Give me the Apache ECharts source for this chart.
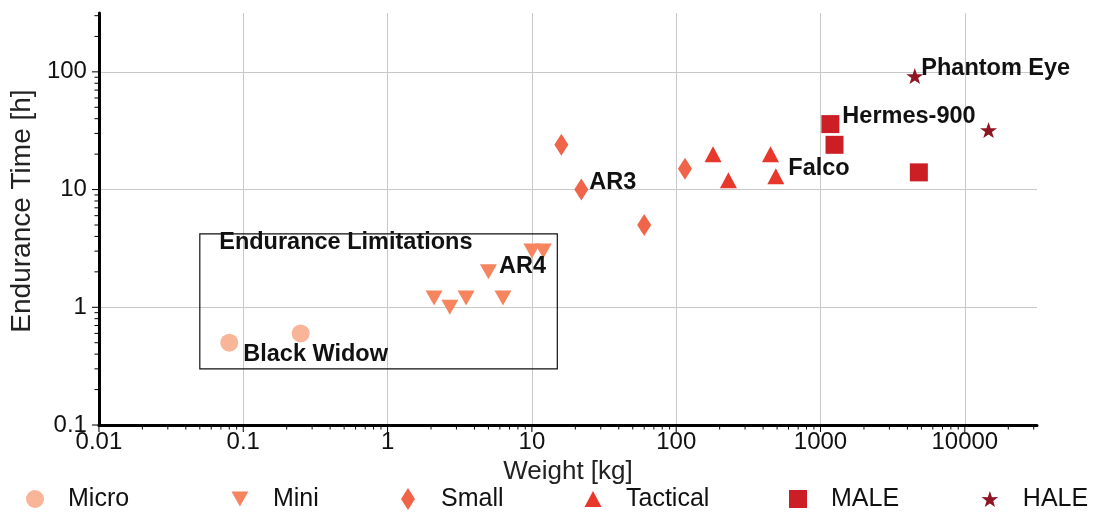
<!DOCTYPE html>
<html>
<head>
<meta charset="utf-8">
<script src="https://cdn.jsdelivr.net/npm/echarts@6/dist/echarts.min.js"></script>
<style>
  html, body { margin: 0; padding: 0; background: #ffffff; }
  #chart { width: 1106px; height: 514px; }
</style>
</head>
<body>
<div id="chart"></div>
<script>
// UAV classes: [weight kg, endurance h, callout name]
const micro    = [[0.08, 0.5, 'Black Widow'], [0.25, 0.6, '']];
const mini     = [[2.1, 1.2, ''], [2.7, 1.0, ''], [3.5, 1.2, ''], [5.0, 2.0, 'AR4'], [6.3, 1.2, ''], [10, 3, ''], [12, 3, '']];
const small    = [[16, 24, ''], [22, 10, 'AR3'], [60, 5, ''], [115, 15, '']];
const tactical = [[180, 20, ''], [230, 12, ''], [450, 20, ''], [490, 13, 'Falco']];
const male     = [[1170, 36, 'Hermes-900'], [1250, 24, ''], [4800, 14, '']];
const hale     = [[4500, 92, 'Phantom Eye'], [14600, 32, '']];

const classNames = ['Micro', 'Mini', 'Small', 'Tactical', 'MALE', 'HALE'];

// Boxed region of small, short-endurance vehicles
const limitRegionX = [0.05, 15];
const limitRegionY = [0.3, 4.2];
const limitRegionTitle = 'Endurance Limitations';

// Axis ranges and tick labels
const xRange = [0.01, 31623];
const yRange = [0.1, 316.23];
const xTickLabels = ['0.01', '0.1', '1', '10', '100', '1000', '10000'];
const yTickLabels = ['0.1', '1', '10', '100'];

const FONT = "'Liberation Sans', Arial, Helvetica, sans-serif";

const palette = {
  Micro: '#F9B597', Mini: '#F6845F', Small: '#F0654A',
  Tactical: '#E8382B', MALE: '#CC1E25', HALE: '#8E1521'
};

const STAR = 'path://M50,0 L61.8,35.1 L97.6,34.5 L69,56.7 L79.4,91 L50,70.5 L20.6,91 L31,56.7 L2.4,34.5 L38.2,35.1 Z';
const TRI_DOWN = 'path://M0,0 L18,0 L9,16 Z';
const DIAMOND = 'path://M7,0 L14,11 L7,22 L0,11 Z';

const markerStyle = {
  Micro:    { symbol: 'circle',   size: [18, 18] },
  Mini:     { symbol: TRI_DOWN,   size: [17, 15] },
  Small:    { symbol: DIAMOND,    size: [14, 22] },
  Tactical: { symbol: 'triangle', size: [17, 16] },
  MALE:     { symbol: 'rect',     size: [18, 18] },
  HALE:     { symbol: STAR,       size: [17, 16] }
};

// where each callout sits next to its marker
const calloutPlacement = {
  'Black Widow': { distance: 5, offset: [0, 12] },
  'AR4':         { distance: 2, offset: [0, -5] },
  'AR3':         { distance: 1, offset: [0, -7] },
  'Falco':       { distance: 4, offset: [0, -8] },
  'Hermes-900':  { distance: 3, offset: [0, -8] },
  'Phantom Eye': { distance: -2, offset: [0, -8] }
};

// legend icon centres along the bottom row
const legendCentres = [35, 240, 408, 593, 798, 990];
const legendRowY = 499;

const calloutText = {
  show: true, position: 'right', color: '#111',
  fontFamily: FONT, fontWeight: 'bold', fontSize: 23.5
};

function toItems(rows) {
  return rows.map(r => {
    const item = { value: [r[0], r[1]] };
    if (r[2]) {
      const p = calloutPlacement[r[2]] || {};
      item.name = r[2];
      item.label = Object.assign({}, calloutText, {
        formatter: r[2], distance: p.distance, offset: p.offset
      });
    }
    return item;
  });
}

const classData = { Micro: micro, Mini: mini, Small: small, Tactical: tactical, MALE: male, HALE: hale };

const scatterSeries = classNames.map(name => {
  const s = {
    name: name,
    type: 'scatter',
    symbol: markerStyle[name].symbol,
    symbolSize: markerStyle[name].size,
    itemStyle: { color: palette[name], opacity: 1 },
    label: { show: false },
    emphasis: { disabled: true },
    z: 5,
    data: toItems(classData[name])
  };
  if (name === 'Micro') {
    s.markArea = {
      silent: true,
      itemStyle: { color: 'rgba(0,0,0,0)', borderColor: '#111', borderWidth: 1.2 },
      label: {
        show: true, position: 'insideTopLeft', distance: 0, offset: [20, -3],
        color: '#111', fontFamily: FONT, fontWeight: 'bold', fontSize: 23.5
      },
      data: [[
        { name: limitRegionTitle, coord: [limitRegionX[0], limitRegionY[1]] },
        { coord: [limitRegionX[1], limitRegionY[0]] }
      ]]
    };
  }
  return s;
});

// Log-style tick marks (majors at decades, minors at 2..9 of each decade)
function decadeTicks(labels, maxVal) {
  const out = [];
  labels.forEach(l => {
    const base = Number(l);
    out.push([base, 7]);
    for (let k = 2; k <= 9; k++) {
      const v = base * k;
      if (v <= maxVal * 1.0001) out.push([v, 4.5]);
    }
  });
  return out;
}
const xTicks = decadeTicks(xTickLabels, xRange[1]);
const yTicks = decadeTicks(yTickLabels, yRange[1]);

const tickSeries = [
  {
    type: 'custom', silent: true, z: 3, clip: false,
    renderItem: (params, api) => {
      const p = api.coord([api.value(0), yRange[0]]);
      const len = api.value(1);
      return { type: 'line', shape: { x1: p[0], y1: p[1], x2: p[0], y2: p[1] + len },
               style: { stroke: '#000', lineWidth: 1 } };
    },
    encode: { x: 0 },
    data: xTicks.map(t => [t[0], t[1]])
  },
  {
    type: 'custom', silent: true, z: 3, clip: false,
    renderItem: (params, api) => {
      const p = api.coord([xRange[0], api.value(0)]);
      const len = api.value(1);
      return { type: 'line', shape: { x1: p[0] - len, y1: p[1], x2: p[0], y2: p[1] },
               style: { stroke: '#000', lineWidth: 1 } };
    },
    encode: { y: 0 },
    data: yTicks.map(t => [t[0], t[1]])
  }
];

function decadeLabel(list) {
  return v => {
    const s = String(Number(v.toPrecision(6)));
    return list.indexOf(s) >= 0 ? s : '';
  };
}

const legendIconH = { Micro: 18, Mini: 15, Small: 22, Tactical: 16, MALE: 18, HALE: 16 };
const legendIconW = { Micro: 18, Mini: 17, Small: 14, Tactical: 17, MALE: 18, HALE: 17 };

const legends = classNames.map((name, i) => {
  const w = legendIconW[name], h = legendIconH[name];
  return {
    data: [{ name: name, icon: markerStyle[name].symbol }],
    left: legendCentres[i] - w / 2,
    top: legendRowY - 14,
    padding: 0,
    itemWidth: w,
    itemHeight: h,
    selectedMode: false,
    textStyle: {
      color: '#111', fontFamily: FONT, fontSize: 25, lineHeight: 28,
      padding: [0, 0, 0, 28 - w / 2]
    }
  };
});

const chart = echarts.init(document.getElementById('chart'), null, { renderer: 'canvas' });

chart.setOption({
  animation: false,
  backgroundColor: '#ffffff',
  grid: { left: 98, right: 69, top: 13, bottom: 89, containLabel: false },
  legend: legends,
  xAxis: {
    type: 'log', logBase: 10, min: xRange[0], max: xRange[1],
    name: 'Weight [kg]', nameLocation: 'middle', nameGap: 29,
    nameTextStyle: { color: '#222', fontFamily: FONT, fontSize: 26 },
    axisLine: { show: true, onZero: false, lineStyle: { color: '#000', width: 3 } },
    axisTick: { show: false },
    axisLabel: {
      color: '#111', fontFamily: FONT, fontSize: 24, margin: 5,
      showMaxLabel: false, formatter: decadeLabel(xTickLabels)
    },
    splitLine: { show: true, showMinLine: false, showMaxLine: false,
                 lineStyle: { color: '#c8c8c8', width: 1 } },
    minorTick: { show: false }
  },
  yAxis: {
    type: 'log', logBase: 10, min: yRange[0], max: yRange[1],
    name: 'Endurance Time [h]', nameLocation: 'middle', nameGap: 60,
    nameTextStyle: { color: '#222', fontFamily: FONT, fontSize: 28, padding: [0, 0, 0, 16] },
    axisLine: { show: true, onZero: false, lineStyle: { color: '#000', width: 3 } },
    axisTick: { show: false },
    axisLabel: {
      color: '#111', fontFamily: FONT, fontSize: 24, margin: 12,
      showMaxLabel: false, formatter: decadeLabel(yTickLabels)
    },
    splitLine: { show: true, showMinLine: false, showMaxLine: false,
                 lineStyle: { color: '#c8c8c8', width: 1 } }
  },
  series: scatterSeries.concat(tickSeries)
});
</script>
</body>
</html>
